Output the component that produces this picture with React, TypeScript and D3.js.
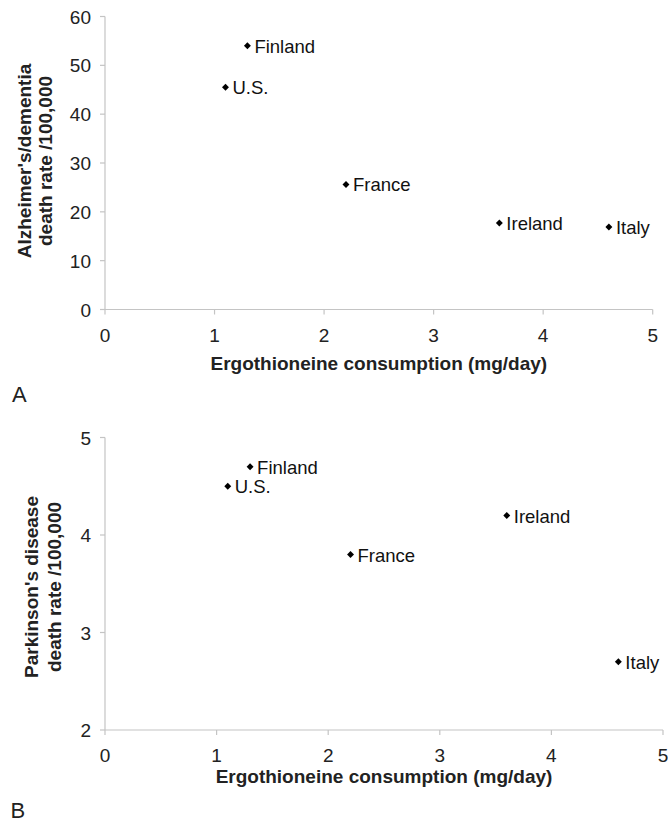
import React from "react";
import * as d3 from "d3";

const countries = ["Finland", "U.S.", "France", "Ireland", "Italy"];
const ergoConsumption = [1.3, 1.1, 2.2, 3.6, 4.6];
const alzheimerRate = [54, 45.5, 25.6, 17.7, 16.9];
const parkinsonRate = [4.7, 4.5, 3.8, 4.2, 2.7];
const xTicks = [0, 1, 2, 3, 4, 5];
const yTicksA = [0, 10, 20, 30, 40, 50, 60];
const yTicksB = [2, 3, 4, 5];
const xTitle = "Ergothioneine consumption (mg/day)";
const yTitleA = ["Alzheimer's/dementia", "death rate /100,000"];
const yTitleB = ["Parkinson's disease", "death rate /100,000"];

const FONT = "'Liberation Sans', Arial, Helvetica, sans-serif";
const AXIS = "#c4c4c4";
const TXT = "#222";

type PanelProps = {
  x: d3.ScaleLinear<number, number>;
  y: d3.ScaleLinear<number, number>;
  yTicks: number[];
  values: number[];
  yTitle: string[];
  yTitleX: number[];
  yTitleCy: number;
  xTitleY: number;
  letter: string;
  letterX: number;
  letterY: number;
};

function Panel({
  x,
  y,
  yTicks,
  values,
  yTitle,
  yTitleX,
  yTitleCy,
  xTitleY,
  letter,
  letterX,
  letterY,
}: PanelProps) {
  const [x0, x1] = x.range();
  const [yb, yt] = y.range();
  const diamond = d3.symbol(d3.symbolSquare, 24)() as string;
  return (
    <g fontFamily={FONT}>
      <line x1={x0} x2={x0} y1={yt} y2={yb} stroke={AXIS} strokeWidth={1.2} />
      <line x1={x0} x2={x1} y1={yb} y2={yb} stroke={AXIS} strokeWidth={1.2} />
      {yTicks.map((t) => (
        <g key={"y" + t}>
          <line x1={x0 - 5} x2={x0} y1={y(t)} y2={y(t)} stroke={AXIS} strokeWidth={1.2} />
          <text x={x0 - 14} y={y(t) + 7} textAnchor="end" fontSize={19} fill={TXT}>
            {t}
          </text>
        </g>
      ))}
      {xTicks.map((t) => (
        <g key={"x" + t}>
          <line x1={x(t)} x2={x(t)} y1={yb} y2={yb + 5} stroke={AXIS} strokeWidth={1.2} />
          <text x={x(t)} y={yb + 32} textAnchor="middle" fontSize={19} fill={TXT}>
            {t}
          </text>
        </g>
      ))}
      <text
        x={(x0 + x1) / 2}
        y={xTitleY}
        textAnchor="middle"
        fontSize={19}
        fontWeight="bold"
        fill={TXT}
      >
        {xTitle}
      </text>
      {yTitle.map((l, i) => (
        <text
          key={i}
          transform={`translate(${yTitleX[i]},${yTitleCy}) rotate(-90)`}
          textAnchor="middle"
          dominantBaseline="central"
          fontSize={19}
          fontWeight="bold"
          fill={TXT}
        >
          {l}
        </text>
      ))}
      {countries.map((c, i) => (
        <g key={c}>
          <path
            d={diamond}
            transform={`translate(${x(ergoConsumption[i])},${y(values[i])}) rotate(45)`}
            fill="#000"
          />
          <text x={x(ergoConsumption[i]) + 7} y={y(values[i]) + 7} fontSize={18.5} fill="#111">
            {c}
          </text>
        </g>
      ))}
      <text x={letterX} y={letterY} fontSize={22} fill={TXT}>
        {letter}
      </text>
    </g>
  );
}

export default function App() {
  const xA = d3.scaleLinear().domain([0, 5]).range([105, 652.7]);
  const yA = d3.scaleLinear().domain([0, 60]).range([309.5, 16.5]);
  const xB = d3.scaleLinear().domain([0, 5]).range([105, 663]);
  const yB = d3.scaleLinear().domain([2, 5]).range([730, 437.5]);
  return (
    <svg width={668} height={823} style={{ position: "absolute", left: 0, top: 0, background: "#fff" }}>
      <rect width={668} height={823} fill="#fff" />
      <Panel
        x={xA}
        y={yA}
        yTicks={yTicksA}
        values={alzheimerRate}
        yTitle={yTitleA}
        yTitleX={[24, 45]}
        yTitleCy={161}
        xTitleY={370}
        letter="A"
        letterX={12}
        letterY={401.7}
      />
      <Panel
        x={xB}
        y={yB}
        yTicks={yTicksB}
        values={parkinsonRate}
        yTitle={yTitleB}
        yTitleX={[31, 54]}
        yTitleCy={587}
        xTitleY={783}
        letter="B"
        letterX={10.6}
        letterY={818}
      />
    </svg>
  );
}
